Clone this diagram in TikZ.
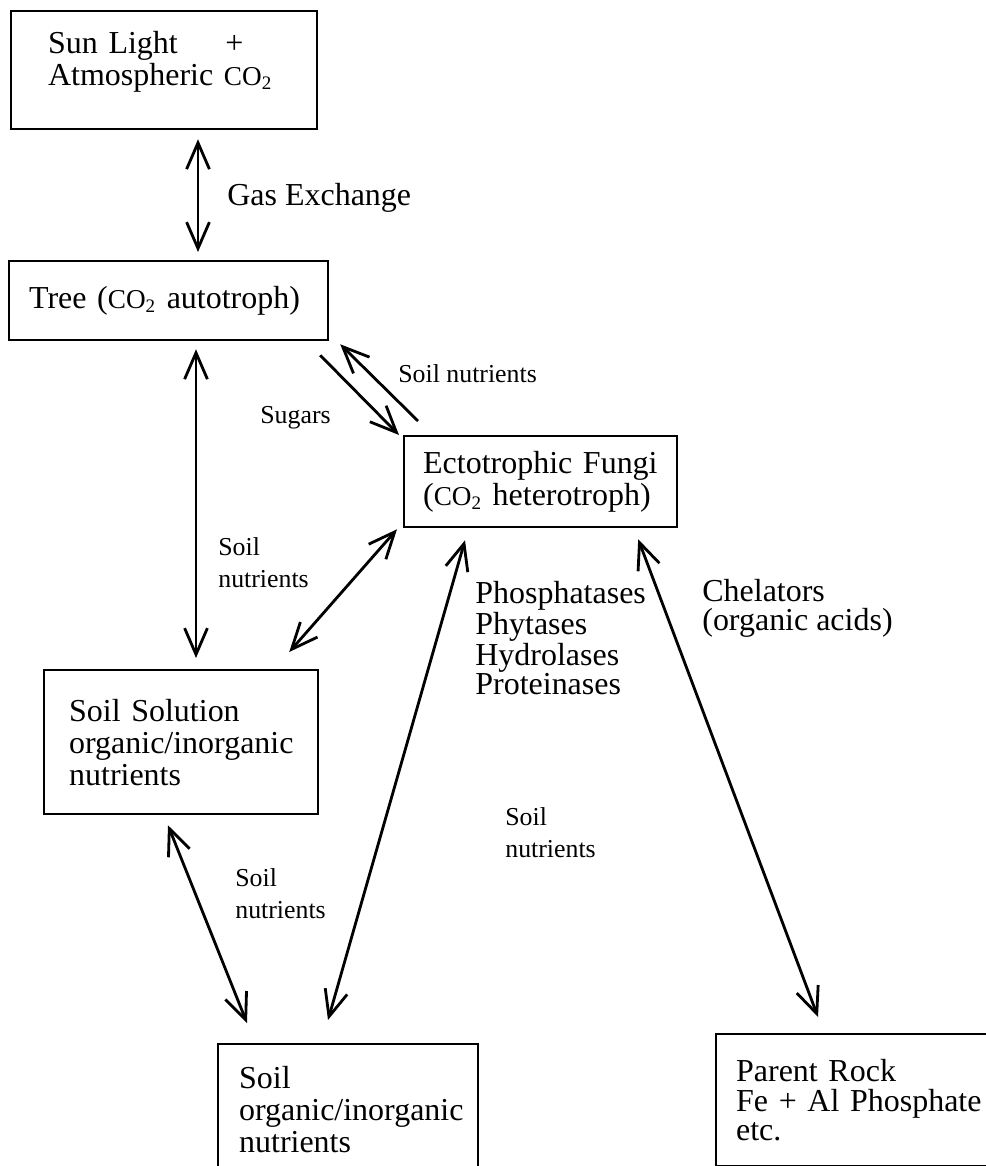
\documentclass[tikz,border=0pt]{standalone}
\usepackage{fontspec}
\setmainfont{Liberation Serif}
\usetikzlibrary{arrows.meta,positioning,calc}
\newcommand{\cotwo}{{\fontsize{15.5}{15.5}\selectfont CO\textsubscript{2}}}
\tikzset{
  box/.style={draw,line width=1.3pt,inner sep=0pt,align=left,anchor=north west,font=\fontsize{18.2}{18.2}\selectfont},
  lab/.style={inner sep=0pt,align=left,anchor=base west,font=\fontsize{18.2}{16.4}\selectfont},
  slab/.style={lab,font=\fontsize{14.7}{18.2}\selectfont},
  barb/.tip={Straight Barb[length=15pt,width=13pt]},
  dbl/.style={line width=1.6pt,barb-barb},
  sgl/.style={line width=1.6pt,-barb}
}

\begin{document}
\begin{tikzpicture}[x=0.02cm,y=-0.02cm]
\useasboundingbox (0,0) rectangle (986,1166);
\clip (0,0) rectangle (986,1166);
% boxes
\node[box,minimum width=6.12cm,minimum height=2.36cm,text width=4.64cm,text depth=31pt] (sun) at (10,10) {Sun Light\hspace{0.95cm}+\\Atmospheric \cotwo};
\node[box,minimum width=6.38cm,minimum height=1.58cm,text width=5.58cm] (tree) at (8,260) {Tree (\cotwo\ autotroph)};
\node[box,minimum width=5.46cm,minimum height=1.82cm,text width=4.70cm] (fungi) at (403,435) {Ectotrophic Fungi\\(\cotwo\ heterotroph)};
\node[box,minimum width=5.48cm,minimum height=2.88cm,text width=4.48cm] (soilsol) at (43,669) {Soil Solution\\organic/inorganic\\nutrients};
\node[box,minimum width=5.20cm,minimum height=2.60cm,text width=4.36cm] (soil) at (217,1043) {Soil\\organic/inorganic\\nutrients};
\node[box,minimum width=5.80cm,minimum height=2.64cm,text width=5.00cm,font=\fontsize{18.2}{16.8}\selectfont] (rock) at (715,1033) {Parent Rock\\Fe + Al Phosphate\\etc.};
% labels (anchored at last baseline)
\node[lab] (gas) at (227,205) {Gas Exchange};
\node[slab] (sugars) at (260,423) {Sugars};
\node[slab] (nutup) at (398,382) {Soil nutrients};
\node[slab] (nutleft) at (218,587) {Soil\\nutrients};
\node[slab] (nutlow) at (235,918) {Soil\\nutrients};
\node[slab] (nutmid) at (505,857) {Soil\\nutrients};
\node[lab] (enzymes) at (475,694) {Phosphatases\\Phytases\\Hydrolases\\Proteinases};
\node[lab] (chelators) at (702,630) {Chelators\\(organic acids)};
% connectors
\draw[dbl] ($(sun.south west)+(188,9)$) -- ($(tree.north west)+(190,-8)$);
\draw[dbl] ($(tree.south west)+(188,8)$) -- ($(soilsol.north west)+(153,-11)$);
\draw[sgl] ($(tree.south east)+(-9,14)$) -- ($(fungi.north west)+(-4,0)$);
\draw[sgl] ($(fungi.north west)+(15,-14)$) -- ($(tree.south east)+(11,3)$);
\draw[dbl] ($(fungi.south west)+(-6,1)$) -- ($(soilsol.north east)+(-30,-17)$);
\draw[dbl] ($(fungi.south west)+(62,12)$) -- ($(soil.north west)+(111,-23)$);
\draw[dbl] ($(fungi.south east)+(-40,11)$) -- ($(rock.north west)+(103,-16)$);
\draw[dbl] ($(soilsol.south west)+(125,10)$) -- ($(soil.north west)+(30,-20)$);
\end{tikzpicture}
\end{document}
